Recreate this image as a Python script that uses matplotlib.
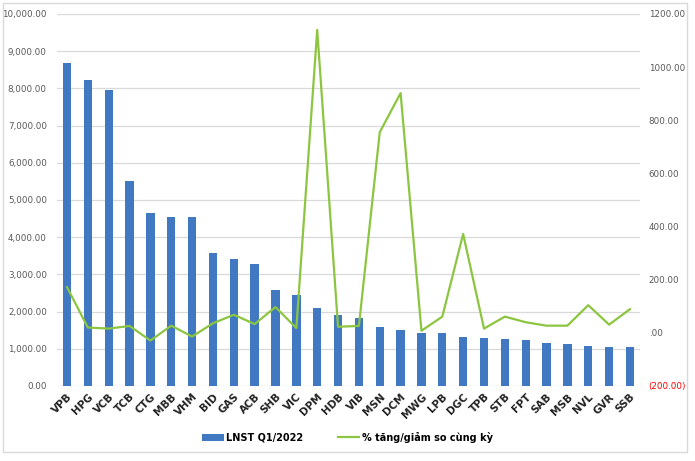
import matplotlib.pyplot as plt
from matplotlib.patches import Rectangle
from matplotlib.ticker import FuncFormatter, MultipleLocator

# ticker list and values
tickers = ["VPB", "HPG", "VCB", "TCB", "CTG", "MBB", "VHM", "BID", "GAS", "ACB",
           "SHB", "VIC", "DPM", "HDB", "VIB", "MSN", "DCM", "MWG", "LPB", "DGC",
           "TPB", "STB", "FPT", "SAB", "MSB", "NVL", "GVR", "SSB"]

lnst_q1_2022 = [8680, 8226, 7957, 5510, 4650, 4543, 4543, 3575, 3414, 3280,
                2580, 2446, 2097, 1908, 1828, 1586, 1505, 1425, 1425, 1317,
                1290, 1263, 1237, 1156, 1129, 1075, 1048, 1048]

pct_change = [172, 20, 16, 26, -29, 27, -14, 36, 68, 33,
              97, 18, 1140, 23, 26, 755, 902, 8, 61, 372,
              16, 61, 40, 27, 27, 104, 31, 89]

bar_color = "#4078c2"
line_color = "#8cc540"
grid_color = "#d9d9d9"
label_color = "#595959"

fig = plt.figure(figsize=(6.95, 4.61), dpi=100)
ax = fig.add_axes([0.0814, 0.1627, 0.84, 0.807])
ax2 = ax.twinx()

x = list(range(len(tickers)))
bars = ax.bar(x, lnst_q1_2022, width=0.4, color=bar_color, zorder=2,
              label="LNST Q1/2022")
line, = ax2.plot(x, pct_change, color=line_color, linewidth=1.6, zorder=3,
                 label="% tăng/giảm so cùng kỳ")

ax.set_xlim(-0.5, len(tickers) - 0.5)
ax.set_ylim(0, 10000)
ax.yaxis.set_major_locator(MultipleLocator(1000))
ax.yaxis.set_major_formatter(FuncFormatter(lambda v, p: f"{v:,.2f}"))
ax.grid(axis="y", color=grid_color, linewidth=0.9, zorder=0)
ax.set_axisbelow(True)

ax2.set_ylim(-200, 1200)
ax2.yaxis.set_major_locator(MultipleLocator(200))


def right_fmt(v, p):
    if abs(v) < 1e-9:
        return ".00"
    if v < 0:
        return f"({abs(v):.2f})"
    return f"{v:.2f}"


ax2.yaxis.set_major_formatter(FuncFormatter(right_fmt))

for a in (ax, ax2):
    for s in a.spines.values():
        s.set_visible(False)
    a.tick_params(axis="y", length=0, labelsize=6.3, labelcolor=label_color)

ax.tick_params(axis="y", pad=7)
ax2.tick_params(axis="y", pad=6)

ax.set_xticks(x)
ax.set_xticklabels(tickers, rotation=45, ha="right", rotation_mode="anchor",
                   fontsize=7.5, fontweight="bold", color="#222222")
ax.tick_params(axis="x", length=0, pad=4)

fig.canvas.draw()
for lbl in ax2.get_yticklabels():
    if lbl.get_text().startswith("("):
        lbl.set_color("red")

fig.legend([bars, line], ["LNST Q1/2022", "% tăng/giảm so cùng kỳ"],
           loc="center", bbox_to_anchor=(0.5, 0.052), ncol=2, frameon=False,
           prop={"size": 7, "weight": "bold"}, handlelength=2.2,
           columnspacing=3.5, handletextpad=0.3)

# light border around the whole chart
fig.patches.append(Rectangle((3 / 695, 1 - 452 / 461), 684 / 695, 449 / 461,
                             transform=fig.transFigure, fill=False,
                             edgecolor=grid_color, linewidth=1))

fig.savefig("out.png", dpi=100)
